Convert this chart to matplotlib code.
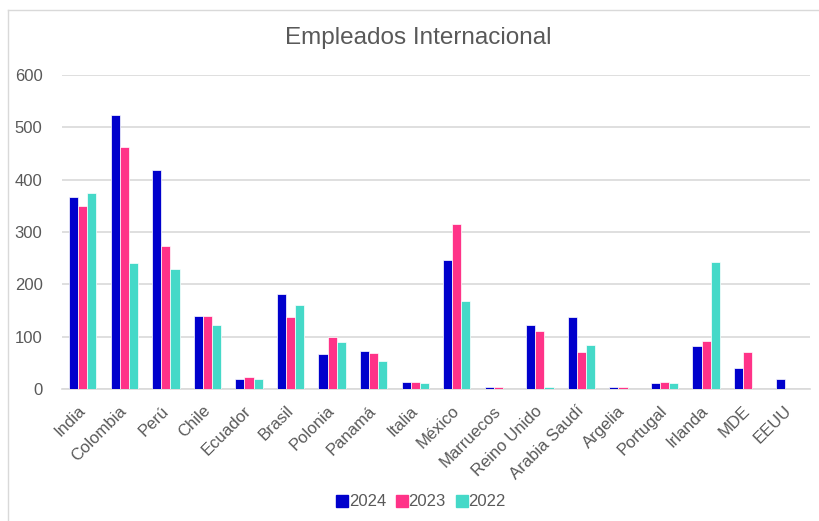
import matplotlib
matplotlib.use("Agg")
import matplotlib.pyplot as plt
import numpy as np
from matplotlib.lines import Line2D

plt.rcParams['font.family'] = ['Liberation Sans', 'DejaVu Sans']

categories = ["India", "Colombia", "Perú", "Chile", "Ecuador", "Brasil", "Polonia",
              "Panamá", "Italia", "México", "Marruecos", "Reino Unido", "Arabia Saudí",
              "Argelia", "Portugal", "Irlanda", "MDE", "EEUU"]
v2024 = [366, 523, 419, 140, 19, 181, 66, 73, 13, 246, 3, 122, 137, 3, 11, 83, 40, 19]
v2023 = [350, 462, 273, 140, 23, 138, 100, 68, 14, 316, 3, 111, 71, 3, 14, 92, 71, 0]
v2022 = [375, 241, 230, 123, 19, 161, 89, 53, 11, 168, 0, 3, 85, 0, 11, 242, 0, 0]
series_names = ["2024", "2023", "2022"]
colors = ["#0000CC", "#FF3388", "#45D9C8"]
yticks = [0, 100, 200, 300, 400, 500, 600]

fig = plt.figure(figsize=(8.2, 5.21), dpi=100)
ax = fig.add_axes([62/820, 1-389/521, (810-62)/820, (389-75)/521])

x = np.arange(len(categories))
w = 0.22
for i, (vals, c) in enumerate(zip([v2024, v2023, v2022], colors)):
    ax.bar(x + (i-1)*w, vals, width=w, color=c, edgecolor='white', linewidth=0.5,
           label=series_names[i], zorder=3)

ax.set_xlim(-0.5, len(categories)-0.5)
ax.set_ylim(0, 600)
ax.set_yticks(yticks)
ax.yaxis.grid(True, color='#D9D9D9', linewidth=1.2, zorder=0)
ax.set_axisbelow(True)
for s in ['top', 'right', 'left']:
    ax.spines[s].set_visible(False)
ax.spines['bottom'].set_color('#D9D9D9')
ax.spines['bottom'].set_linewidth(1.2)
ax.tick_params(axis='both', length=0, colors='#595959', labelsize=12)
ax.tick_params(axis='y', pad=14)
ax.set_xticks(x)
ax.set_xticklabels(categories, rotation=45, ha='right', rotation_mode='anchor', va='center')
ax.tick_params(axis='x', pad=14)

fig.text(418/820, 1-38/521, "Empleados Internacional", ha='center', va='center',
         fontsize=17.5, color='#595959')

handles = [Line2D([0], [0], marker='s', linestyle='none', markersize=8.5,
                  markerfacecolor=c, markeredgecolor=c) for c in colors]
fig.legend(handles, series_names, loc='center', bbox_to_anchor=(421/820, 1-502/521),
           ncol=3, frameon=False, fontsize=12, handletextpad=0.05, columnspacing=0.6,
           labelcolor='#595959', handlelength=0.7)

# chart border (top and left visible)
fig.add_artist(Line2D([8/820, 1], [1-10/521, 1-10/521], transform=fig.transFigure,
                      color='#D9D9D9', linewidth=1))
fig.add_artist(Line2D([8/820, 8/820], [0, 1-10/521], transform=fig.transFigure,
                      color='#D9D9D9', linewidth=1))

fig.savefig("out.png", dpi=100)
